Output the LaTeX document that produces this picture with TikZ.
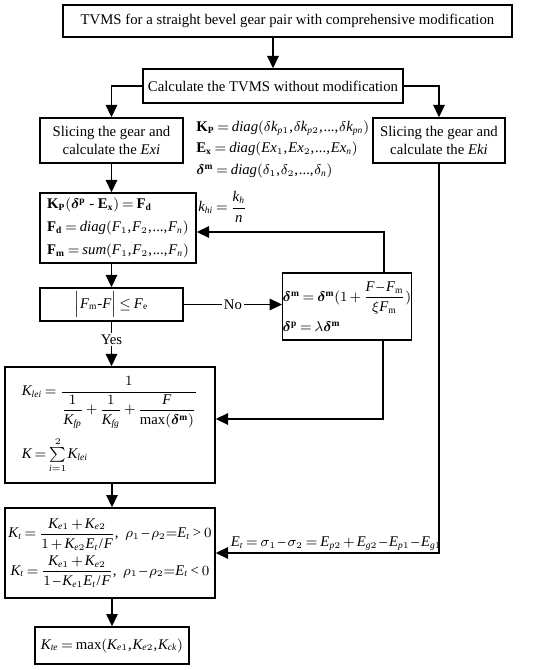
\documentclass[tikz,border=0pt]{standalone}
\usepackage{amsmath,amssymb}
\usepackage{bm}
\usepackage{fontspec}
\setmainfont{Liberation Serif}
\usepackage[italic]{mathastext}
\DeclareMathSizes{8.4}{8.4}{5.4}{4.4}
\usepackage{tikz}
\usetikzlibrary{positioning,arrows.meta,calc}

\begin{document}
\begin{tikzpicture}[>={Triangle[length=7pt,width=6.5pt]}, font=\fontsize{8.4}{10.2}\selectfont,
    box/.style={draw, line width=0.8pt, inner sep=0pt, align=center},
    arr/.style={->, line width=0.75pt},
    eqn/.style={anchor=west, inner sep=0pt},
    execute at begin picture={\thinmuskip=1mu \medmuskip=2.5mu plus 1mu \thickmuskip=3.5mu plus 1mu}]

    \useasboundingbox (0,0) rectangle (11,-13.4);

    % Top of the chart
    \node[box, minimum width=8.98cm, minimum height=0.64cm] (top) at (5.75,-0.42) {TVMS for a straight bevel gear pair with comprehensive modification};
    \node[box, minimum width=5.2cm, minimum height=0.68cm] (calc) at (5.46,-1.72) {Calculate the TVMS without modification};
    \node[box, minimum width=2.86cm, minimum height=0.9cm] (slicel) at (2.23,-2.81) {Slicing the gear and\\calculate the \textit{Exi}};
    \node[box, minimum width=2.64cm, minimum height=0.9cm] (slicer) at (8.78,-2.81) {Slicing the gear and\\calculate the \textit{Eki}};

    % Matrices beside the slicing box
    \node[eqn] (kpmat) at (3.92,-2.56) {$\mathbf{K}_{\mathbf{P}} = \mathit{diag}(\delta k_{p1},\delta k_{p2},...,\delta k_{pn})$};
    \node[eqn] (exmat) at (3.92,-2.98) {$\mathbf{E}_{\mathbf{x}} = \mathit{diag}(Ex_1,Ex_2,...,Ex_n)$};
    \node[eqn] (dmmat) at (3.92,-3.42) {$\bm{\delta}^{\mathbf{m}} = \mathit{diag}(\delta_1,\delta_2,...,\delta_n)$};
    \node[eqn] (khi) at (3.96,-4.14) {$k_{hi} = \dfrac{k_h}{n}$};

    % Iteration loop
    \node[box, align=left, minimum width=3.12cm, minimum height=1.4cm] (kp) at (2.36,-4.56)
        {$\mathbf{K}_{\mathbf{P}}(\bm{\delta}^{\mathbf{p}} \text{ - } \mathbf{E}_{\mathbf{x}}) = \mathbf{F}_{\mathbf{d}}$\\[3pt]
         $\mathbf{F}_{\mathbf{d}} = \mathit{diag}(F_1,F_2,...,F_n)$\\[3pt]
         $\mathbf{F}_{\mathbf{m}} = \mathit{sum}(F_1,F_2,...,F_n)$};
    \node[box, minimum width=2.86cm, minimum height=0.66cm] (cond) at (2.23,-6.09) {$\Bigl|F_{\mathrm{m}}\text{-}F\Bigr| \le F_{\mathrm{e}}$};
    \node[box, align=left, minimum width=2.56cm, minimum height=1.34cm] (dm) at (6.94,-6.13)
        {$\bm{\delta}^{\mathbf{m}} = \bm{\delta}^{\mathbf{m}}(1+\dfrac{F-F_{\mathrm{m}}}{\xi F_{\mathrm{m}}})$\\[3pt]
         $\bm{\delta}^{\mathbf{p}} = \lambda\bm{\delta}^{\mathbf{m}}$};

    % Mesh stiffness
    \node[box, align=left, minimum width=4.2cm, minimum height=2.32cm] (klei) at (2.2,-8.5)
        {$K_{lei} = \dfrac{1}{\dfrac{1}{K_{fp}}+\dfrac{1}{K_{fg}}+\dfrac{F}{\max(\bm{\delta}^{\mathbf{m}})}}$\\[4pt]
         $K = \sum\limits_{i=1}^{2} K_{lei}$};
    \node[box, minimum width=4.2cm, minimum height=1.8cm] (kt) at (2.2,-11.06)
        {$K_t = \dfrac{K_{e1}+K_{e2}}{1+K_{e2}E_t\,/\,F},\;\; \rho_1-\rho_2{=}E_t>0$\\[2pt]
         $K_t = \dfrac{K_{e1}+K_{e2}}{1-K_{e1}E_t\,/\,F},\;\; \rho_1-\rho_2{=}E_t<0$};
    \node[box, minimum width=3.08cm, minimum height=0.74cm] (kte) at (2.24,-12.91) {$K_{te} = \max(K_{e1},K_{e2},K_{ck})$};

    \coordinate (fb) at (7.68,-4.64);
    \coordinate (fb2) at (7.66,-8.38);

    % Connectors
    \draw[arr] (top.south -| calc.north) -- (calc.north);
    \draw[arr] (calc.west) -| (slicel.north);
    \draw[arr] (calc.east) -| (slicer.north);
    \draw[arr] (slicel.south) -- (slicel.south |- kp.north);
    \draw[arr] (kp.south -| cond.north) -- (cond.north);
    \draw[arr] (cond.east) -- node[fill=white, inner sep=1pt] {No} (cond.east -| dm.west);
    \draw[arr] (cond.south) -- node[fill=white, inner sep=1pt, pos=0.4] {Yes} (cond.south |- klei.north);
    \draw[arr] (dm.north -| fb) -- (fb) -- (fb -| kp.east);
    \draw[arr] (dm.south -| fb2) -- (fb2) -- (fb2 -| klei.east);
    \draw[arr] (klei.south -| kte.north) -- (kt.north -| kte.north);
    \draw[arr] (kt.south -| kte.north) -- (kte.north);
    \draw[arr] (slicer.south) |- node[above, pos=0.73, inner sep=1pt] {$E_t = \sigma_1-\sigma_2 = E_{p2}+E_{g2}-E_{p1}-E_{g1}$} (kt.east);

\end{tikzpicture}
\end{document}
